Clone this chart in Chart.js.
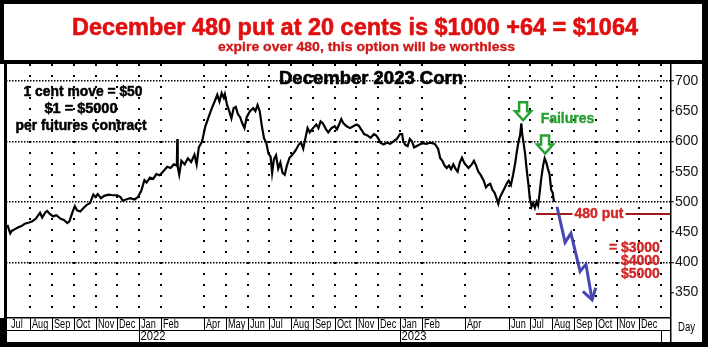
<!DOCTYPE html>
<html><head><meta charset="utf-8">
<script src="https://cdn.jsdelivr.net/npm/chart.js@4.4.0/dist/chart.umd.min.js"></script>
<style>html,body{margin:0;padding:0;background:#fff;overflow:hidden}canvas{display:block}</style>
</head><body>
<canvas id="c" width="708" height="347"></canvas>
<script>
// ---- DATA ----
// x position: months since 1 Jul 2021 (0 = start of Jul 2021), y: cents/bushel
const priceMonth = [-0.05,0.08,0.15,0.30,0.45,0.60,0.75,0.95,1.10,1.25,1.45,1.55,1.70,1.78,1.90,2.05,2.20,2.40,2.55,2.70,2.80,2.95,3.05,3.15,3.30,3.45,3.60,3.75,3.90,4.00,4.10,4.25,4.40,4.60,4.80,5.00,5.15,5.25,5.40,5.60,5.80,5.95,6.10,6.25,6.35,6.50,6.65,6.80,6.95,7.10,7.30,7.45,7.60,7.74,7.76,7.78,7.85,7.95,8.10,8.25,8.40,8.55,8.65,8.75,8.90,9.05,9.20,9.35,9.50,9.60,9.70,9.80,9.90,9.95,10.05,10.15,10.25,10.35,10.45,10.55,10.65,10.75,10.85,10.95,11.10,11.25,11.35,11.45,11.55,11.65,11.75,11.85,11.95,12.05,12.12,12.20,12.30,12.40,12.50,12.60,12.70,12.80,12.92,13.05,13.20,13.35,13.45,13.55,13.65,13.75,13.85,14.00,14.15,14.25,14.35,14.45,14.60,14.70,14.85,15.00,15.10,15.20,15.30,15.40,15.55,15.70,15.85,16.00,16.10,16.25,16.35,16.50,16.65,16.80,16.90,17.00,17.10,17.25,17.40,17.55,17.70,17.85,18.00,18.10,18.15,18.25,18.35,18.45,18.55,18.65,18.75,18.90,19.05,19.20,19.40,19.60,19.75,19.85,19.95,20.05,20.15,20.25,20.35,20.45,20.55,20.65,20.75,20.85,20.95,21.05,21.15,21.30,21.40,21.50,21.60,21.70,21.85,21.95,22.05,22.15,22.25,22.35,22.45,22.52,22.60,22.70,22.80,22.90,23.00,23.10,23.20,23.30,23.38,23.45,23.52,23.58,23.62,23.68,23.75,23.82,23.90,23.97,24.05,24.12,24.20,24.28,24.35,24.42,24.50,24.58,24.65,24.72,24.80,24.88,24.95,25.02,25.08];
const priceCents = [462,448,452,455,458,460,464,466,468,472,482,474,483,485,480,476,478,472,470,465,468,484,493,486,484,490,495,498,512,508,513,506,510,512,511,511,508,502,504,506,504,508,518,536,532,540,538,546,544,550,558,556,562,560,604,558,545,568,562,572,566,578,562,590,600,625,640,655,668,677,666,680,672,678,660,650,638,655,657,645,640,630,622,640,650,655,650,660,650,625,605,598,580,575,548,570,577,555,565,548,545,560,573,578,585,595,598,588,605,622,615,622,628,622,633,630,620,615,622,625,620,628,637,630,625,622,625,628,626,618,612,610,606,612,610,605,598,595,598,596,600,604,612,612,600,594,592,604,600,590,592,595,597,596,598,596,588,572,568,560,556,560,554,562,555,550,565,573,565,560,556,562,568,560,550,545,535,524,528,530,520,515,505,497,508,515,522,530,535,528,545,565,585,600,610,630,612,598,580,555,530,505,492,498,490,500,494,515,540,560,572,566,555,545,520,515,500];

const monthLabels = ['Jul','Aug','Sep','Oct','Nov','Dec',
  'Jan','Feb','','Apr','May','Jun','Jul','Aug','Sep','Oct','Nov','Dec',
  'Jan','Feb','','Apr','','Jun','Jul','Aug','Sep','Oct','Nov','Dec'];
const yearLabels = ['2022','2023'];
const yearStartMonth = [6,18];
const yTickValues = [350,400,450,500,550,600,650,700];

const putStrike = 480;
const putStartMonth = 24.25;
const downMonth = [25.22,25.59,25.86,26.28,26.55,26.83];
const downCents = [492,433,448,385,397,338];
const headMonth = [26.41,26.83,27.0];
const headCents = [352,338,358];
const failureMonth = [23.66,24.67];
const failureCents = [635,580];

const xMin = -0.115, xMax = 30.46, yMin = 308, yMax = 728;
const gridMonths = monthLabels.map((l,i)=> l && i>0 ? i : null).filter(v=>v!==null).concat([30]);

const pricePts = priceMonth.map((m,i)=>({x:m,y:priceCents[i]}));

function fitText(ctx, text, x, y, font, color, width, align, stroke){
  ctx.save();
  ctx.font = font; ctx.fillStyle = color; ctx.textBaseline = 'middle'; ctx.textAlign = 'left';
  const w = ctx.measureText(text).width;
  const sx = width ? width / w : 1;
  let x0 = x;
  if (align === 'center') x0 = x - w*sx/2;
  else if (align === 'right') x0 = x - w*sx;
  ctx.translate(x0, y); ctx.scale(sx, 1);
  ctx.fillText(text, 0, 0);
  if (stroke){ ctx.strokeStyle = color; ctx.lineWidth = stroke; ctx.lineJoin = 'round'; ctx.strokeText(text, 0, 0); }
  ctx.restore();
}

const BF = '"Liberation Sans", Arial, sans-serif';

const annotations = {
  id: 'annotations',
  beforeDraw(chart){
    const ctx = chart.ctx;
    ctx.save(); ctx.fillStyle = '#fff'; ctx.fillRect(0,0,chart.width,chart.height); ctx.restore();
  },
  afterDatasetsDraw(chart){
    const ctx = chart.ctx, xs = chart.scales.x, ys = chart.scales.y;
    // 480 put label with white background
    const lx = xs.getPixelForValue(27.15), ly = ys.getPixelForValue(putStrike);
    ctx.save();
    ctx.font = 'bold 14px ' + BF;
    const lw = ctx.measureText('480 put').width;
    ctx.fillStyle = '#fff'; ctx.fillRect(lx - lw/2 - 2, ly - 7, lw + 4, 14);
    ctx.restore();
    fitText(ctx, '480 put', lx, ly, 'bold 14px ' + BF, '#d42626', 0, 'center', 0.4);
    // payout texts
    const rx = xs.getPixelForValue(29.95);
    fitText(ctx, '= $3000', rx, ys.getPixelForValue(423), 'bold 14px ' + BF, '#d42626', 0, 'right', 0.4);
    fitText(ctx, '$4000', rx, ys.getPixelForValue(401.5), 'bold 14px ' + BF, '#d42626', 0, 'right', 0.4);
    fitText(ctx, '$5000', rx, ys.getPixelForValue(380), 'bold 14px ' + BF, '#d42626', 0, 'right', 0.4);
    // Failures
    fitText(ctx, 'Failures', xs.getPixelForValue(25.7), ys.getPixelForValue(637), 'bold 14px ' + BF, '#26a033', 0, 'center', 0.4);
    // green hollow down arrows
    failureMonth.forEach((m,i)=>{
      const x = xs.getPixelForValue(m), y = ys.getPixelForValue(failureCents[i]);
      ctx.save();
      ctx.beginPath();
      ctx.moveTo(x, y);
      ctx.lineTo(x-8, y-9);
      ctx.lineTo(x-4, y-9);
      ctx.lineTo(x-4, y-18);
      ctx.lineTo(x+4, y-18);
      ctx.lineTo(x+4, y-9);
      ctx.lineTo(x+8, y-9);
      ctx.closePath();
      ctx.fillStyle = '#fff'; ctx.fill();
      ctx.lineWidth = 2.5; ctx.strokeStyle = '#26a033'; ctx.lineJoin = 'miter'; ctx.stroke();
      ctx.restore();
    });
    // titles inside plot
    fitText(ctx, 'December 2023 Corn', 371, 79.5, 'bold 18px ' + BF, '#000', 184, 'center', 0.6);
    const lf = 'bold 14px ' + BF;
    fitText(ctx, '1 cent move = $50', 83, 92, lf, '#000', 119, 'center', 0.5);
    fitText(ctx, '$1 = $5000', 81, 109, lf, '#000', 73, 'center', 0.5);
    fitText(ctx, 'per futures contract', 81, 126, lf, '#000', 131, 'center', 0.5);
  },
  afterDraw(chart){
    const ctx = chart.ctx, xs = chart.scales.x;
    const W = chart.width, H = chart.height;
    ctx.save();
    ctx.fillStyle = '#000';
    // header box
    ctx.fillRect(0,0,W,4);
    ctx.fillRect(0,60,W,4);
    ctx.fillRect(0,0,4,64);
    // right frame + bottom frame
    ctx.fillRect(702,0,6,H);
    ctx.fillRect(0,342,W,5);
    // left axis
    ctx.fillRect(4,64,3,278);
    ctx.fillRect(0,318,7,29);
    // right axis line extending into label rows
    ctx.fillRect(670,64,1.5,278);
    // plot bottom line and row separator
    ctx.fillRect(6,317,665,1.5);
    ctx.fillRect(6,330,665,1);
    ctx.restore();
    // month labels
    const MF = '12px ' + BF;
    ctx.save();
    ctx.strokeStyle = '#000'; ctx.lineWidth = 1;
    monthLabels.forEach((l,i)=>{
      if (!l) return;
      const x = Math.round(xs.getPixelForValue(i)) + 0.5;
      if (i>0){ ctx.beginPath(); ctx.moveTo(x,318); ctx.lineTo(x,330); ctx.stroke(); }
      ctx.font = MF;
      const w = ctx.measureText(l).width*0.76;
      fitText(ctx, l, x+1.5, 324.5, MF, '#000', w, 'left');
    });
    yearLabels.forEach((l,i)=>{
      const x = Math.round(xs.getPixelForValue(yearStartMonth[i])) + 0.5;
      ctx.beginPath(); ctx.moveTo(x,330); ctx.lineTo(x,342); ctx.stroke();
      fitText(ctx, l, x+1, 336.5, MF, '#000', 25, 'left');
    });
    const xe = Math.round(xs.getPixelForValue(30)) + 0.5;
    ctx.beginPath(); ctx.moveTo(xe,330); ctx.lineTo(xe,342); ctx.stroke();
    ctx.restore();
    fitText(ctx, 'Day', 678, 327, '13px ' + BF, '#000', 17, 'left');
    // header text
    fitText(ctx, 'December 480 put at 20 cents is $1000 +64 = $1064', 355, 28, 'bold 24px ' + BF, '#e01010', 566, 'center', 0.6);
    fitText(ctx, 'expire over 480, this option will be worthless', 366.5, 48, 'bold 12px ' + BF, '#d01818', 297, 'center', 0.3);
  }
};

new Chart(document.getElementById('c').getContext('2d'), {
  type: 'line',
  data: {
    datasets: [
      { data: pricePts, borderColor: '#000', borderWidth: 2.2, pointRadius: 0, tension: 0, order: 1 },
      { data: [{x: putStartMonth, y: putStrike}, {x: xMax, y: putStrike}], borderColor: '#9e1b1b', borderWidth: 2, pointRadius: 0, order: 2 },
      { data: downMonth.map((m,i)=>({x:m,y:downCents[i]})), borderColor: '#4646b4', borderWidth: 3, pointRadius: 0, borderJoinStyle: 'miter', order: 0 },
      { data: headMonth.map((m,i)=>({x:m,y:headCents[i]})), borderColor: '#4646b4', borderWidth: 3, pointRadius: 0, borderJoinStyle: 'miter', order: 0 }
    ]
  },
  options: {
    responsive: false, animation: false, devicePixelRatio: 1,
    layout: { padding: { left: 6, top: 64, right: 0, bottom: 0 } },
    plugins: { legend: { display: false }, tooltip: { enabled: false } },
    scales: {
      x: {
        type: 'linear', min: xMin, max: xMax,
        afterBuildTicks: s => { s.ticks = gridMonths.map(v=>({value:v})); },
        afterFit: s => { s.height = 347 - 318; },
        ticks: { display: false },
        grid: { color: '#000', lineWidth: 2, drawTicks: false },
        border: { display: false, dash: [2, 9] }
      },
      y: {
        position: 'right', min: yMin, max: yMax,
        afterBuildTicks: s => { s.ticks = yTickValues.map(v=>({value:v})); },
        afterFit: s => { s.width = 708 - 671; },
        ticks: { color: '#111', padding: 1, font: { family: '"Liberation Sans", Arial, sans-serif', size: 14 } },
        grid: {
          color: c => (c.tick && c.tick.value % 100 === 0) ? '#000' : 'rgba(0,0,0,0)',
          lineWidth: 1.5, drawTicks: true, tickLength: 3, tickColor: '#000', tickWidth: 1
        },
        border: { display: false, dash: [1.5, 1.5] }
      }
    }
  },
  plugins: [annotations]
});
</script>
</body></html>
